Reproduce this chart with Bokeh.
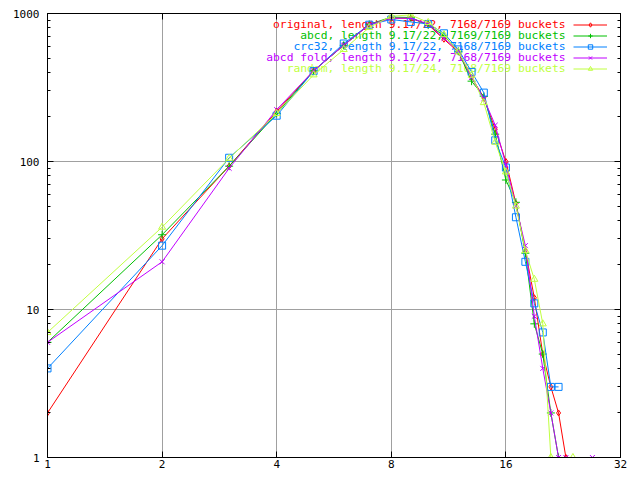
from bokeh.plotting import figure
from bokeh.models import (LogAxis, FixedTicker, PrintfTickFormatter, Legend, LegendItem,
                          Label, Range1d, CustomJSTickFormatter)
from bokeh.embed import file_html
from bokeh.resources import INLINE

# ---------------- data ----------------
x_ticks = [1, 2, 4, 8, 16, 32]
y_ticks = [1, 10, 100, 1000]
y_minor = [2, 3, 4, 5, 6, 7, 8, 9, 20, 30, 40, 50, 60, 70, 80, 90,
           200, 300, 400, 500, 600, 700, 800, 900]

series_labels = [
    "original, length 9.17/22, 7168/7169 buckets",
    "abcd, length 9.17/22, 7169/7169 buckets",
    "crc32, length 9.17/22, 7168/7169 buckets",
    "abcd fold, length 9.17/27, 7168/7169 buckets",
    "random, length 9.17/24, 7168/7169 buckets",
]

original_x = list(range(1, 24))
original_y = [2, 30, 93, 218, 410, 610, 840, 930, 930, 840, 670, 550, 370, 270, 165,
              100, 52, 25, 12, 5, 3, 2, 1]

abcd_x = list(range(1, 23))
abcd_y = [6, 32, 93, 211, 410, 610, 845, 945, 940, 835, 710, 555, 349, 275, 153,
          75, 53, 24, 8, 5, 2, 1]

crc32_x = list(range(1, 23))
crc32_y = [4, 27, 106, 204, 408, 627, 840, 911, 877, 850, 735, 572, 403, 292, 139,
           91, 42, 21, 11, 7, 3, 3]

fold_x = list(range(1, 24)) + [27]
fold_y = [6, 21, 90, 224, 410, 610, 840, 930, 930, 850, 680, 560, 370, 266, 176,
          95, 50, 27, 9, 4, 2, 1, 1, 1]

random_x = list(range(1, 22)) + [24]
random_y = [7, 36, 105, 211, 385, 571, 804, 959, 978, 870, 720, 550, 383, 250, 135,
            85, 50, 25, 16, 8, 1, 1]

# ---------------- styles ----------------
colors = ["#ff0000", "#00c000", "#0080ff", "#c000ff", "#c0ff40"]
markers = ["diamond", "cross", "square", "x", "triangle"]
sizes = [6, 8, 7, 7, 7]
FONT = "DejaVu Sans Mono"
FS = "11px"
FS_KEY = "11.3px"

p = figure(width=632, height=472, x_axis_type="log", y_axis_type="log",
           x_range=Range1d(1, 32), y_range=Range1d(1, 1000),
           output_backend="svg", toolbar_location=None,
           min_border_left=47, min_border_right=12, min_border_top=13, min_border_bottom=15)
p.background_fill_color = "white"
p.border_fill_color = "white"
p.outline_line_color = "black"
p.outline_line_width = 1
p.outline_line_alpha = 1

xt = FixedTicker(ticks=x_ticks, minor_ticks=[])
yt = FixedTicker(ticks=y_ticks, minor_ticks=y_minor)

for ax, tk in ((p.xaxis[0], xt), (p.yaxis[0], yt)):
    ax.ticker = tk
    ax.formatter = PrintfTickFormatter(format="%d")
    ax.major_tick_in = 6
    ax.major_tick_out = 0
    ax.minor_tick_in = 3
    ax.minor_tick_out = 0
    ax.axis_line_color = "black"
    ax.major_tick_line_color = "black"
    ax.minor_tick_line_color = "black"
    ax.major_label_text_font = FONT
    ax.major_label_text_font_size = FS
    ax.major_label_text_color = "black"
p.xaxis[0].major_label_standoff = 2
p.yaxis[0].major_label_standoff = 8

p.xgrid.ticker = xt
p.ygrid.ticker = yt
p.xgrid.grid_line_color = "#a0a0a0"
p.ygrid.grid_line_color = "#a0a0a0"
p.xgrid.grid_line_width = 1
p.ygrid.grid_line_width = 1

# mirror ticks on top and right
blank = CustomJSTickFormatter(code="return ''")
for place, tk in (("above", xt), ("right", yt)):
    ax = LogAxis(ticker=tk, formatter=blank, major_tick_in=6, major_tick_out=0,
                 minor_tick_in=3, minor_tick_out=0, major_label_standoff=0,
                 major_label_text_font_size="0px", axis_line_color="black",
                 major_tick_line_color="black", minor_tick_line_color="black")
    p.add_layout(ax, place)

# ---------------- series ----------------
xs = [original_x, abcd_x, crc32_x, fold_x, random_x]
ys = [original_y, abcd_y, crc32_y, fold_y, random_y]
items = []
for x, y, c, m, s in zip(xs, ys, colors, markers, sizes):
    lr = p.line(x, y, line_color=c, line_width=1)
    sr = p.scatter(x, y, marker=m, size=s, line_color=c, fill_color=None, line_width=1)
    items.append(LegendItem(label=" ", renderers=[lr, sr]))

legend = Legend(items=items, location=(526, 383), glyph_width=34, glyph_height=11,
                label_height=11, label_width=0, label_standoff=0, spacing=0,
                padding=0, margin=0, border_line_alpha=0, background_fill_alpha=0,
                label_text_font_size="1px")
p.add_layout(legend)

for i, (txt, c) in enumerate(zip(series_labels, colors)):
    p.add_layout(Label(x=518, y=433 - 11 * i, x_units="screen", y_units="screen",
                       text=txt, text_align="right", text_baseline="middle",
                       text_color=c, text_font=FONT, text_font_size=FS_KEY,
                       level="underlay"))

open("out.html", "w").write(file_html(p, INLINE))
